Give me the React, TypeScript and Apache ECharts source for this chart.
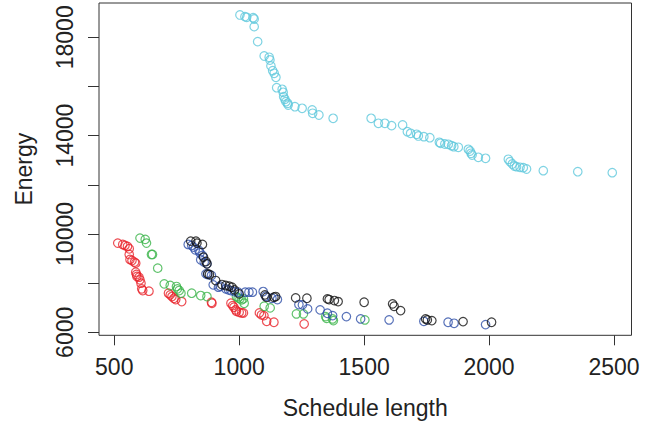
import React, { useEffect, useRef } from "react";
import * as echarts from "echarts";

const xTickValues = [500, 1000, 1500, 2000, 2500];
const yTickValues = [6000, 8000, 10000, 12000, 14000, 16000, 18000];
const yLabelValues = [6000, 10000, 14000, 18000];

const cyanData: [number, number][] = [
  [1003, 18908], [1023, 18839], [1030, 18813], [1056, 18798], [1060, 18745], [1060, 18432],
  [1074, 17822], [1100, 17240], [1120, 17187], [1123, 17077], [1127, 16833], [1134, 16642],
  [1140, 16536], [1147, 16373], [1150, 15950], [1172, 15885], [1176, 15763], [1178, 15584],
  [1183, 15478], [1187, 15381], [1194, 15316], [1196, 15246], [1223, 15177], [1252, 15112],
  [1292, 15043], [1294, 14909], [1319, 14840], [1376, 14705], [1528, 14705], [1557, 14502],
  [1583, 14502], [1610, 14405], [1654, 14433], [1673, 14160], [1686, 14095], [1710, 14055],
  [1717, 13986], [1739, 13957], [1763, 13916], [1801, 13729], [1806, 13689], [1823, 13660],
  [1837, 13648], [1850, 13591], [1859, 13550], [1877, 13526], [1917, 13444], [1924, 13375],
  [1928, 13282], [1932, 13213], [1957, 13119], [1986, 13078], [2077, 13038], [2084, 12940],
  [2093, 12846], [2101, 12765], [2110, 12737], [2124, 12712], [2137, 12696], [2150, 12643],
  [2217, 12574], [2355, 12533], [2493, 12493],
];

const redData: [number, number][] = [
  [514, 9629], [534, 9574], [543, 9533], [553, 9493], [560, 9398], [560, 9166], [563, 8963],
  [571, 8922], [581, 8854], [586, 8813], [586, 8446], [589, 8351], [591, 8270], [599, 8242],
  [603, 8134], [607, 7998], [610, 7767], [614, 7699], [639, 7672], [717, 7590], [724, 7522],
  [731, 7454], [739, 7386], [746, 7332], [770, 7250], [889, 7223], [891, 7182], [967, 7182],
  [974, 7087], [979, 7019], [986, 6911], [989, 6856], [1000, 6815], [1010, 6788], [1017, 6788],
  [1081, 6788], [1089, 6707], [1099, 6680], [1110, 6448], [1139, 6408], [1260, 6340],
];

const greenData: [number, number][] = [
  [603, 9832], [624, 9778], [629, 9628], [649, 9166], [653, 9166], [674, 8609], [700, 7971],
  [724, 7903], [749, 7862], [753, 7767], [760, 7699], [767, 7590], [810, 7590], [846, 7495],
  [871, 7454], [989, 7454], [996, 7400], [1003, 7359], [1010, 7318], [1017, 7359], [1020, 7182],
  [1100, 7060], [1124, 6992], [1229, 6747], [1257, 6747], [1346, 6639], [1350, 6571],
  [1374, 6544], [1377, 6476], [1503, 6503],
];

const blueData: [number, number][] = [
  [796, 9574], [810, 9533], [817, 9465], [824, 9357], [839, 9330], [843, 9234], [846, 8949],
  [853, 9126], [860, 8854], [871, 8786], [867, 8378], [874, 8351], [889, 8310], [896, 7930],
  [917, 7835], [924, 7875], [946, 7767], [957, 7726], [967, 7699], [981, 7658], [996, 7631],
  [1024, 7631], [1039, 7631], [1053, 7631], [1096, 7658], [1106, 7468], [1131, 7386],
  [1153, 7332], [1239, 7128], [1253, 7114], [1274, 6951], [1324, 6911], [1353, 6775],
  [1374, 6680], [1429, 6639], [1486, 6544], [1600, 6503], [1739, 6448], [1836, 6408],
  [1860, 6367], [1986, 6313],
];

const blackData: [number, number][] = [
  [806, 9710], [827, 9710], [831, 9628], [853, 9574], [857, 9058], [867, 8881], [871, 8786],
  [874, 8378], [881, 8351], [906, 8106], [931, 7943], [946, 7903], [960, 7875], [971, 7835],
  [981, 7726], [1000, 7563], [1103, 7522], [1110, 7427], [1139, 7427], [1146, 7454],
  [1226, 7400], [1271, 7386], [1353, 7359], [1360, 7332], [1381, 7291], [1396, 7250],
  [1500, 7223], [1614, 7155], [1620, 7060], [1646, 6883], [1746, 6544], [1753, 6503],
  [1771, 6476], [1896, 6435], [2010, 6408],
];

const FONT = "'Liberation Sans', Arial, Helvetica, sans-serif";

function makeSeries(name: string, data: [number, number][], color: string) {
  return {
    name,
    type: "scatter",
    data,
    symbol: "circle",
    symbolSize: 8.5,
    itemStyle: { color: "rgba(0,0,0,0)", borderColor: color, borderWidth: 1.2 },
    emphasis: { disabled: true },
  };
}

const plain = (v: number) => String(v);

export default function App() {
  const ref = useRef<HTMLDivElement>(null);
  useEffect(() => {
    if (!ref.current) return;
    const chart = echarts.init(ref.current, null, { renderer: "svg" });
    chart.setOption({
      animation: false,
      backgroundColor: "#ffffff",
      grid: {
        left: 99,
        right: 25.5,
        top: 3,
        bottom: 90.7,
        show: true,
        borderColor: "#333",
        borderWidth: 1,
        backgroundColor: "rgba(0,0,0,0)",
      },
      xAxis: {
        type: "value",
        min: 439,
        max: 2570,
        name: "Schedule length",
        nameLocation: "middle",
        nameGap: 61,
        nameTextStyle: { fontSize: 23, color: "#222", fontFamily: FONT },
        axisLine: { show: false },
        axisTick: { show: true, length: 10, lineStyle: { color: "#333" }, customValues: xTickValues },
        axisLabel: { customValues: xTickValues, formatter: plain, margin: 20, fontSize: 23, color: "#222", fontFamily: FONT },
        splitLine: { show: false },
      },
      yAxis: {
        type: "value",
        min: 5878,
        max: 19395,
        name: "Energy",
        nameLocation: "middle",
        nameGap: 64,
        nameTextStyle: { fontSize: 23, color: "#222", fontFamily: FONT },
        axisLine: { show: false },
        axisTick: { show: true, length: 11, lineStyle: { color: "#333" }, customValues: yTickValues },
        axisLabel: { customValues: yLabelValues, formatter: plain, rotate: 90, margin: 23, fontSize: 23, color: "#222", fontFamily: FONT },
        splitLine: { show: false },
      },
      series: [
        makeSeries("cyan", cyanData, "#5FC8DC"),
        makeSeries("red", redData, "#E8232A"),
        makeSeries("green", greenData, "#3BB44A"),
        makeSeries("blue", blueData, "#2E4FA8"),
        makeSeries("black", blackData, "#111111"),
      ],
    });
    return () => chart.dispose();
  }, []);
  return (
    <div
      ref={ref}
      style={{ position: "fixed", left: 0, top: 0, width: 657, height: 426 }}
    />
  );
}
